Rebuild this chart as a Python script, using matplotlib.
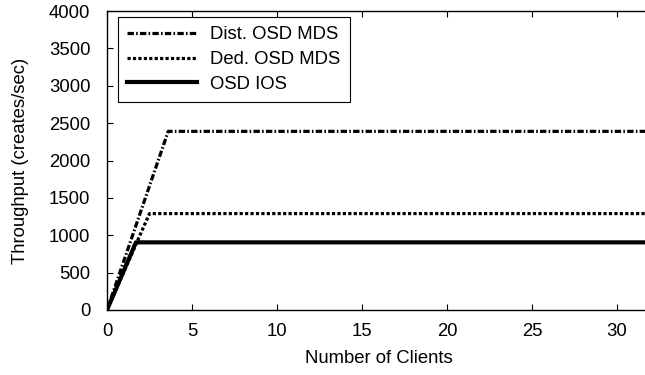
import matplotlib
matplotlib.use("Agg")
import matplotlib.pyplot as plt

plt.rcParams['font.family'] = ['Liberation Sans', 'DejaVu Sans']

# Data (knee points)
dist_x = [0, 3.6, 32]
dist_y = [0, 2390, 2390]
ded_x = [0, 2.5, 32]
ded_y = [0, 1290, 1290]
ios_x = [0, 1.7, 32]
ios_y = [0, 905, 905]

labels = ["Dist. OSD MDS", "Ded. OSD MDS", "OSD IOS"]
xticks = [0, 5, 10, 15, 20, 25, 30]
yticks = [0, 500, 1000, 1500, 2000, 2500, 3000, 3500, 4000]

FS = 13.3

fig = plt.figure(figsize=(6.45, 3.75), dpi=100)
ax = fig.add_axes([107/645, 65/375, 544/645, 299/375])

ax.plot(dist_x, dist_y, color='black', lw=2.3, linestyle=(0, (2.0, 0.7, 0.5, 0.7)), label=labels[0])
ax.plot(ded_x, ded_y, color='black', lw=2.3, linestyle=(0, (1.0, 0.7)), label=labels[1])
ax.plot(ios_x, ios_y, color='black', lw=3.0, linestyle='-', label=labels[2])

ax.set_xlim(0, 32)
ax.set_ylim(0, 4000)
ax.set_xticks(xticks)
ax.set_yticks(yticks)
ax.tick_params(direction='in', length=4, width=0.8, top=True, right=True, labelsize=FS)
ax.tick_params(axis='x', pad=9.5)
ax.tick_params(axis='y', pad=12)
for s in ax.spines.values():
    s.set_linewidth(1.0)

ax.set_xlabel("Number of Clients", fontsize=FS, labelpad=7)
ax.set_ylabel("Throughput (creates/sec)", fontsize=FS, labelpad=14)

leg = ax.legend(loc='upper left', bbox_to_anchor=(0.02, 0.98), fontsize=FS,
                fancybox=False, framealpha=1, edgecolor='black',
                handlelength=3.8, handletextpad=0.7, labelspacing=0.42,
                borderpad=0.5, borderaxespad=0)
leg.get_frame().set_linewidth(0.8)

fig.savefig("out.png", dpi=100)
